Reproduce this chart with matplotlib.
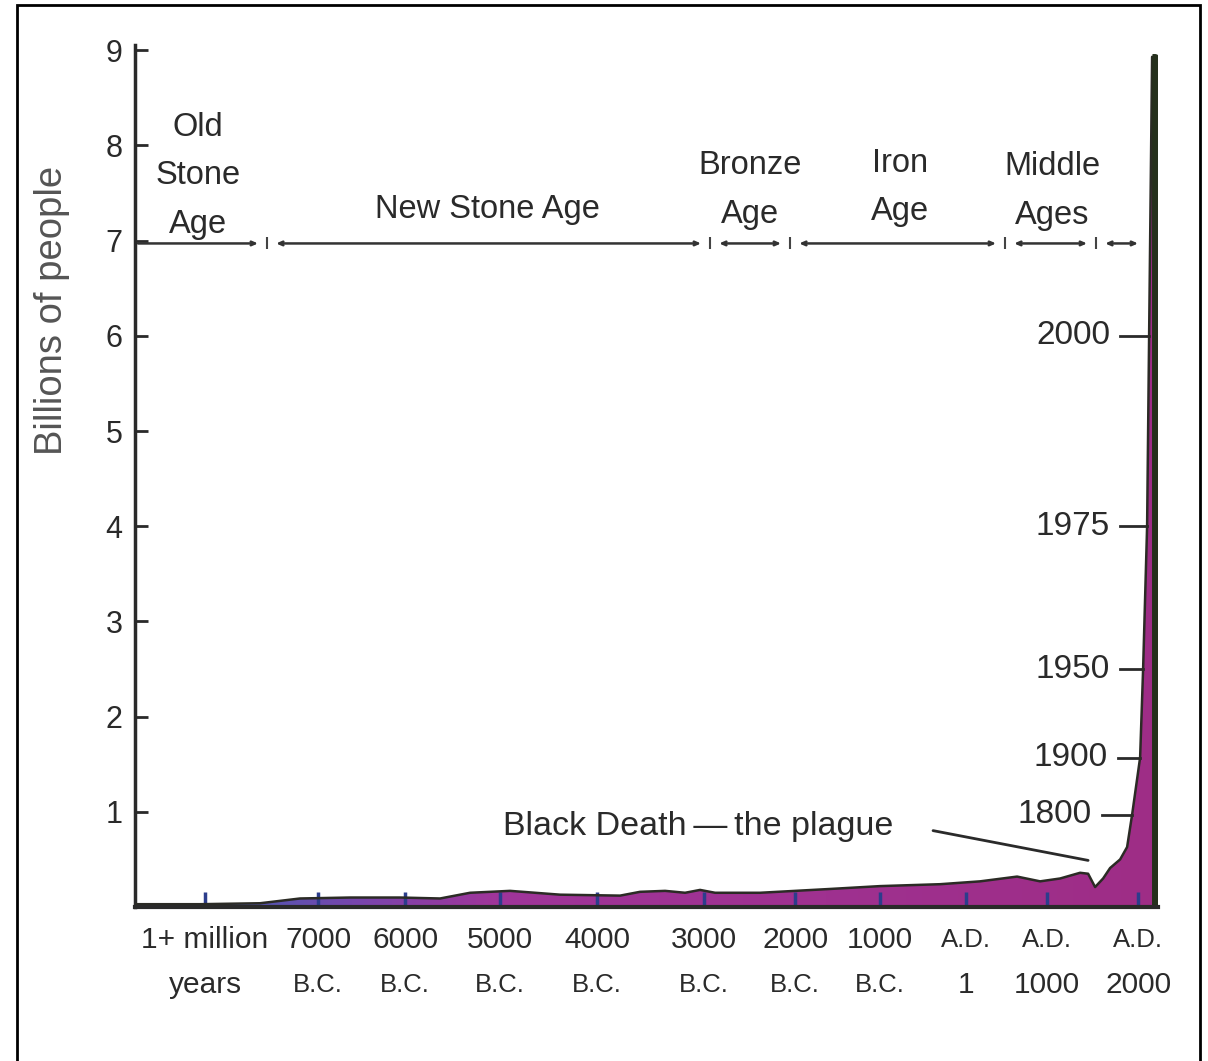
#World population through history

import numpy as np
import matplotlib.pyplot as plt
from matplotlib.colors import LinearSegmentedColormap
from matplotlib.patches import Rectangle
from matplotlib.transforms import Bbox, TransformedBbox

plt.rcParams['font.family'] = ['Liberation Sans', 'DejaVu Sans']

#Population curve (x = position along the time axis, y = billions of people)
curve_x = [0.00, 0.65, 1.25, 1.65, 2.15, 2.65, 3.05, 3.35, 3.75, 4.25, 4.85, 5.05,
           5.30, 5.50, 5.65, 5.80, 6.25, 6.60, 6.95, 7.45, 8.05, 8.45, 8.82, 9.05,
           9.25, 9.45, 9.53, 9.60, 9.68, 9.75, 9.85, 9.92, 9.97, 10.05, 10.08,
           10.12, 10.14, 10.17, 10.20, 10.20]
curve_y = [0.03, 0.03, 0.04, 0.09, 0.10, 0.10, 0.09, 0.15, 0.17, 0.13, 0.12, 0.16,
           0.17, 0.15, 0.18, 0.15, 0.15, 0.17, 0.19, 0.22, 0.24, 0.27, 0.32, 0.27,
           0.30, 0.36, 0.35, 0.21, 0.30, 0.41, 0.50, 0.63, 0.97, 1.57, 2.50,
           4.00, 6.00, 8.93, 8.93, 0.00]

#X axis tick labels (two lines, different sizes)
tick_pos = [0.70, 1.83, 2.70, 3.65, 4.62, 5.69, 6.60, 7.45, 8.31, 9.12, 10.03]
tick_top = ['1+ million', '7000', '6000', '5000', '4000', '3000', '2000', '1000',
            'A.D.', 'A.D.', 'A.D.']
tick_bottom = ['years', 'B.C.', 'B.C.', 'B.C.', 'B.C.', 'B.C.', 'B.C.', 'B.C.',
               '1', '1000', '2000']

#Historical eras
era_names = ['Old\nStone\nAge', 'New Stone Age', 'Bronze\nAge', 'Iron\nAge', 'Middle\nAges']
era_edges = [0.0, 1.32, 5.75, 6.55, 8.70, 9.61, 10.12]
era_label_x = [0.63, 3.52, 6.15, 7.65, 9.17]
era_label_y = [7.68, 7.33, 7.53, 7.56, 7.52]
era_line_y = 6.97

#Year markers along the spike
year_marks = ['2000', '1975', '1950', '1900', '1800']
year_pop = [6.0, 4.0, 2.5, 1.57, 0.97]
year_label_x = [9.75, 9.75, 9.75, 9.73, 9.57]

text_color = '#2a2a2a'

fig = plt.figure(figsize=(12.08, 10.61), dpi=100)
ax = fig.add_axes([0.1118, 0.1451, 0.8469, 0.8121])

#Filled area with a blue -> magenta gradient
poly = ax.fill_between(curve_x, curve_y, 0, color='none', lw=0)
cmap = LinearSegmentedColormap.from_list(
    'pop', [(0.0, '#3e5597'), (0.1, '#4f58b0'), (0.22, '#7a45ad'),
            (0.35, '#a0359a'), (1.0, '#9e2d86')])
grad = np.linspace(0, 1, 256).reshape(1, -1)
im = ax.imshow(grad, extent=[0, 10.23, 0, 9.05], aspect='auto', cmap=cmap,
               zorder=1, interpolation='bilinear')
im.set_clip_path(poly.get_paths()[0], transform=ax.transData)

ax.plot(curve_x, curve_y, color='#2b2b25', lw=1.8, zorder=3)
ax.plot(curve_x[-3:], curve_y[-3:], color='#25301c', lw=5, zorder=3,
        solid_capstyle='butt')

ax.set_xlim(0, 10.23)
ax.set_ylim(0, 9.05)

#Axes styling
for side in ['top', 'right']:
    ax.spines[side].set_visible(False)
ax.spines['left'].set_linewidth(2.5)
ax.spines['left'].set_color('#2a2a2a')
ax.spines['bottom'].set_linewidth(3)
ax.spines['bottom'].set_color('#2a2a2a')
ax.spines['bottom'].set_zorder(4)

ax.set_yticks(range(1, 10))
ax.tick_params(axis='y', direction='in', length=9, width=2, color='#2a2a2a',
               labelsize=22, labelcolor=text_color, pad=9)
#the scan cuts off the top of the "9"
top_label = ax.get_yticklabels()[-1]
top_label.set_clip_on(True)
top_label.set_clip_box(TransformedBbox(Bbox([[0, 0], [1, 1 - 36 / 1061]]),
                                       fig.transFigure))

ax.set_xticks(tick_pos)
ax.set_xticklabels([])
ax.tick_params(axis='x', direction='in', length=11, width=2.5, color='#2c3d8c')

xtrans = ax.get_xaxis_transform()
for x, top, bottom in zip(tick_pos, tick_top, tick_bottom):
    small_top = top.startswith('A.D.')
    small_bottom = bottom.startswith('B.C.')
    ax.text(x, -0.0383, top, transform=xtrans, ha='center', va='center',
            fontsize=18.5 if small_top else 21.5, color=text_color)
    ax.text(x, -0.0905, bottom, transform=xtrans, ha='center', va='center',
            fontsize=18.5 if small_bottom else 21.5, color=text_color)

#Era labels and arrows
for name, lx, ly in zip(era_names, era_label_x, era_label_y):
    ax.text(lx, ly, name, ha='center', va='center', fontsize=23.5,
            color=text_color, linespacing=1.72)

for i in range(len(era_edges) - 1):
    x1 = era_edges[i] + (0.03 if i == 0 else 0.09)
    x2 = era_edges[i + 1] - 0.09
    style = '->' if i == 0 else '<->'
    ax.annotate('', xy=(x2, era_line_y), xytext=(x1, era_line_y),
                arrowprops=dict(arrowstyle=style + ',head_length=0.3,head_width=0.13',
                                color='#333333', lw=1.8, shrinkA=0, shrinkB=0))
ax.plot(era_edges[1:-1], [era_line_y] * (len(era_edges) - 2), ls='none',
        marker='|', markersize=9, mew=1.5, color='#444444')

#Year markers
rise_x = curve_x[-9:-2]
rise_y = curve_y[-9:-2]
for label, pop, lx in zip(year_marks, year_pop, year_label_x):
    ax.text(lx, pop, label, ha='right', va='center', fontsize=24, color=text_color)
    x_end = np.interp(pop, rise_y, rise_x)
    ax.plot([lx + 0.1, x_end], [pop, pop], color='#2a2a2a', lw=2, zorder=2)

#Black Death annotation
ax.annotate('Black Death\u2009\u2014\u2009the plague', xy=(9.53, 0.49),
            xytext=(3.68, 0.85), ha='left', va='center', fontsize=24.5,
            color=text_color,
            arrowprops=dict(arrowstyle='-', color='#2a2a2a', lw=2,
                            relpos=(1, 0.6), shrinkA=27, shrinkB=0))

fig.text(0.043, 0.7078, 'Billions of people', rotation=90, ha='center',
         va='center', fontsize=27.5, color='#555555')

#Outer frame
fig.patches.append(Rectangle((17 / 1208, -0.01), (1200 - 17) / 1208, 1.01 - 5 / 1061,
                             transform=fig.transFigure, fill=False, lw=2,
                             ec='black'))

fig.savefig('out.png', dpi=100, facecolor='white')
